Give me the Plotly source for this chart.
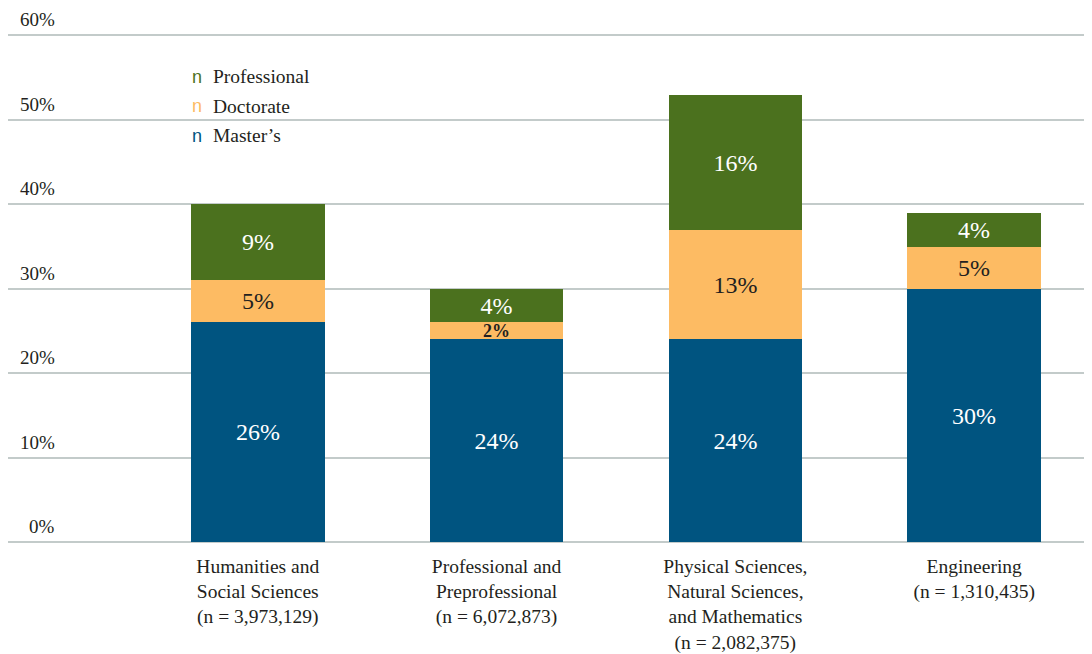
import plotly.graph_objects as go

# data
categories = [
    "Humanities and<br>Social Sciences<br>(n = 3,973,129)",
    "Professional and<br>Preprofessional<br>(n = 6,072,873)",
    "Physical Sciences,<br>Natural Sciences,<br>and Mathematics<br>(n = 2,082,375)",
    "Engineering<br>(n = 1,310,435)",
]
masters = [26, 24, 24, 30]
doctorate = [5, 2, 13, 5]
professional = [9, 4, 16, 4]
y_ticks = [0, 10, 20, 30, 40, 50, 60]

series = [
    ("Master’s", masters, "#005480", "white"),
    ("Doctorate", doctorate, "#FDBB63", "#231f20"),
    ("Professional", professional, "#4B711E", "white"),
]

FONT = "Liberation Serif"

fig = go.Figure()
for name, vals, color, txtcolor in series:
    fig.add_trace(go.Bar(
        x=categories,
        y=vals,
        name=name,
        marker_color=color,
        marker_line_width=0,
        width=0.56,
        text=[f"<b>{v}%</b>" if v <= 2 else f"{v}%" for v in vals],
        textposition="inside",
        insidetextanchor="middle",
        constraintext="none",
        textangle=0,
        textfont=dict(family=FONT, size=[24 if v > 2 else 18 for v in vals], color=txtcolor),
        showlegend=False,
    ))

# y tick labels sitting above the gridlines
annotations = []
for t in y_ticks:
    annotations.append(dict(
        x=0.0445, xref="paper", xanchor="right",
        y=t, yref="y", yanchor="bottom", yshift=3,
        text=f"{t}%", showarrow=False,
        font=dict(family=FONT, size=19, color="#231f20"),
    ))

# legend drawn as text items (top item = top of stack)
legend_y = [0.903, 0.846, 0.789]
for (name, vals, color, _), ly in zip(reversed(series), legend_y):
    annotations.append(dict(
        x=0.1665, xref="paper", xanchor="left",
        y=ly, yref="paper", yanchor="middle",
        text="n", showarrow=False,
        font=dict(family="Liberation Sans", size=18, color=color),
    ))
    annotations.append(dict(
        x=0.1857, xref="paper", xanchor="left",
        y=ly, yref="paper", yanchor="middle",
        text=name, showarrow=False,
        font=dict(family=FONT, size=19.5, color="#231f20"),
    ))

fig.update_layout(
    barmode="stack",
    width=1092, height=654,
    margin=dict(l=0, r=0, t=19, b=120, pad=0),
    plot_bgcolor="white", paper_bgcolor="white",
    bargap=0,
    annotations=annotations,
    shapes=[dict(
        type="rect", xref="paper", yref="paper",
        x0=0.1603, x1=0.2885, y0=0.75, y1=0.94,
        fillcolor="white", line_width=0, layer="between",
    )],
    xaxis=dict(
        range=[-1.046, 3.527], automargin=False,
        showgrid=False, showline=False, ticks="", ticklabelstandoff=10,
        tickfont=dict(family=FONT, size=19.5, color="#231f20"),
    ),
    yaxis=dict(
        range=[0, 61], tickvals=y_ticks, showticklabels=False, automargin=False,
        showgrid=True, gridcolor="#c3cbca", gridwidth=1.5,
        zeroline=True, zerolinecolor="#c3cbca", zerolinewidth=1.5,
    ),
)

fig.write_html("out.html")
